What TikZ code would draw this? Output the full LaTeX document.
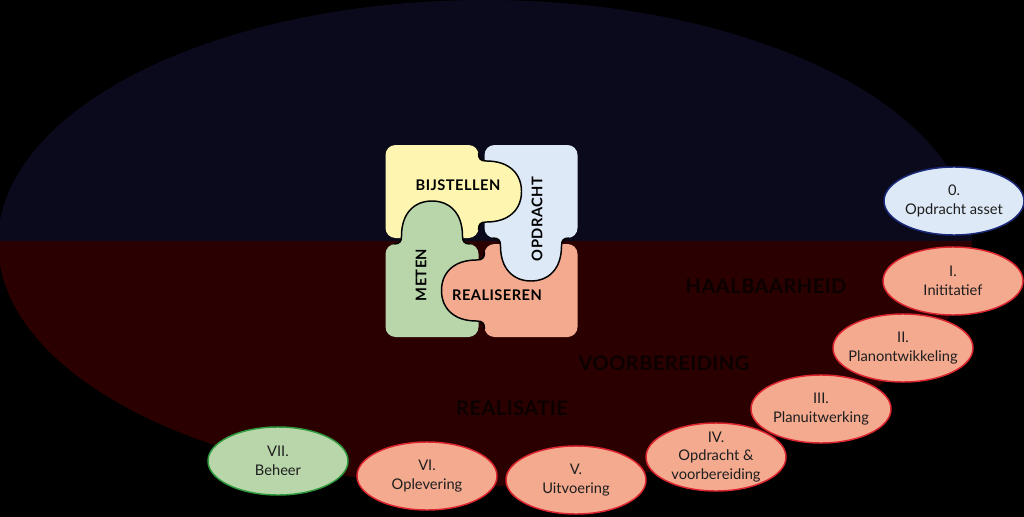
\documentclass[tikz,border=0pt]{standalone}
\usepackage{fontspec}
\setmainfont{Lato}
\usetikzlibrary{shapes.geometric}
\definecolor{navybg}{HTML}{0B0A1C}
\definecolor{redbg}{HTML}{2B0000}
\definecolor{pyellow}{HTML}{FDF5B0}
\definecolor{pblue}{HTML}{DDE9F6}
\definecolor{pgreen}{HTML}{B8D6AA}
\definecolor{psalmon}{HTML}{F4AA8F}
\definecolor{bblue}{HTML}{1B2A7A}
\definecolor{bred}{HTML}{DD2530}
\definecolor{bgreen}{HTML}{2F9A3D}
\definecolor{txt}{HTML}{1E1E1E}
\definecolor{bigtxt}{HTML}{0C0101}
\newcommand\pzbody[1]{\fill[#1, rounded corners=7.5pt] (-96,-96) rectangle (-3,-3);}
\newcommand\pztab[1]{%
  \fill[#1] (-3,-88) .. controls (-3,-82) and (-1,-80) .. (5,-80) .. controls (28,-80) and (40,-67) .. (40,-49.5) .. controls (40,-32) and (28,-19) .. (5,-19) .. controls (-1,-19) and (-3,-17) .. (-3,-11) -- (-12,-11) -- (-12,-88) -- cycle;
  \draw[black, line width=1.1pt] (-3,-88) .. controls (-3,-82) and (-1,-80) .. (5,-80) .. controls (28,-80) and (40,-67) .. (40,-49.5) .. controls (40,-32) and (28,-19) .. (5,-19) .. controls (-1,-19) and (-3,-17) .. (-3,-11);}
\begin{document}
\begin{tikzpicture}[x=0.75pt,y=-0.75pt,
  phase/.style={ellipse, line width=1.1pt, minimum width=105pt, minimum height=51pt, inner sep=0pt},
  ptext/.style={align=center, text=txt, font=\fontsize{11}{14}\selectfont, inner sep=0pt},
  pzlabel/.style={text=black, inner sep=0pt, font={\fontsize{11}{13}\selectfont\bfseries\addfontfeature{LetterSpace=3}}},
  biglabel/.style={text=bigtxt, inner sep=0pt, font={\fontsize{15}{17}\selectfont\bfseries\addfontfeature{LetterSpace=2.5}}}]
\useasboundingbox (0,0) rectangle (1024,517);
\fill[black] (0,0) rectangle (1024,517);
\begin{scope}
\clip (485,243) ellipse [x radius=487, y radius=243];
\fill[navybg] (-10,-10) rectangle (1040,241);
\fill[redbg] (-10,241) rectangle (1040,530);
\end{scope}
% puzzle bodies
\foreach \ang/\col in {0/pyellow, -90/pblue, -180/psalmon, 90/pgreen}{
  \begin{scope}[shift={(481.5,241)}, rotate=\ang]
    \pzbody{\col}
  \end{scope}}
% puzzle tabs
\foreach \ang/\col in {0/pyellow, -90/pblue, -180/psalmon, 90/pgreen}{
  \begin{scope}[shift={(481.5,241)}, rotate=\ang]
    \pztab{\col}
  \end{scope}}
\node[pzlabel] (lbij) at (458,185) {BIJSTELLEN};
\node[pzlabel, rotate=90] (lopd) at (537,219) {OPDRACHT};
\node[pzlabel, rotate=90] (lmet) at (421,275) {METEN};
\node[pzlabel] (lrea) at (497,295) {REALISEREN};
% big labels
\node[biglabel] (haal) at (766,286) {HAALBAARHEID};
\node[biglabel] (voor) at (664,363) {VOORBEREIDING};
\node[biglabel] (real) at (512,408) {REALISATIE};
% phases
\node[phase, fill=pblue, draw=bblue] (p0) at (954,201) {};
\node[phase, fill=psalmon, draw=bred] (p1) at (953,281) {};
\node[phase, fill=psalmon, draw=bred] (p2) at (903,348) {};
\node[phase, fill=psalmon, draw=bred] (p3) at (821,409) {};
\node[phase, fill=psalmon, draw=bred] (p4) at (716,457) {};
\node[phase, fill=psalmon, draw=bred] (p5) at (576,480) {};
\node[phase, fill=psalmon, draw=bred] (p6) at (427,476) {};
\node[phase, fill=pgreen, draw=bgreen] (p7) at (278,461) {};
\node[ptext] (t0) at (p0) {0.\\Opdracht asset};
\node[ptext] (t1) at (p1) {I.\\Inititatief};
\node[ptext] (t2) at (p2) {II.\\Planontwikkeling};
\node[ptext] (t3) at (p3) {III.\\Planuitwerking};
\node[ptext] (t4) at (p4) {IV.\\Opdracht \&\\voorbereiding};
\node[ptext] (t5) at (p5) {V.\\Uitvoering};
\node[ptext] (t6) at (p6) {VI.\\Oplevering};
\node[ptext] (t7) at (p7) {VII.\\Beheer};
\end{tikzpicture}
\end{document}
